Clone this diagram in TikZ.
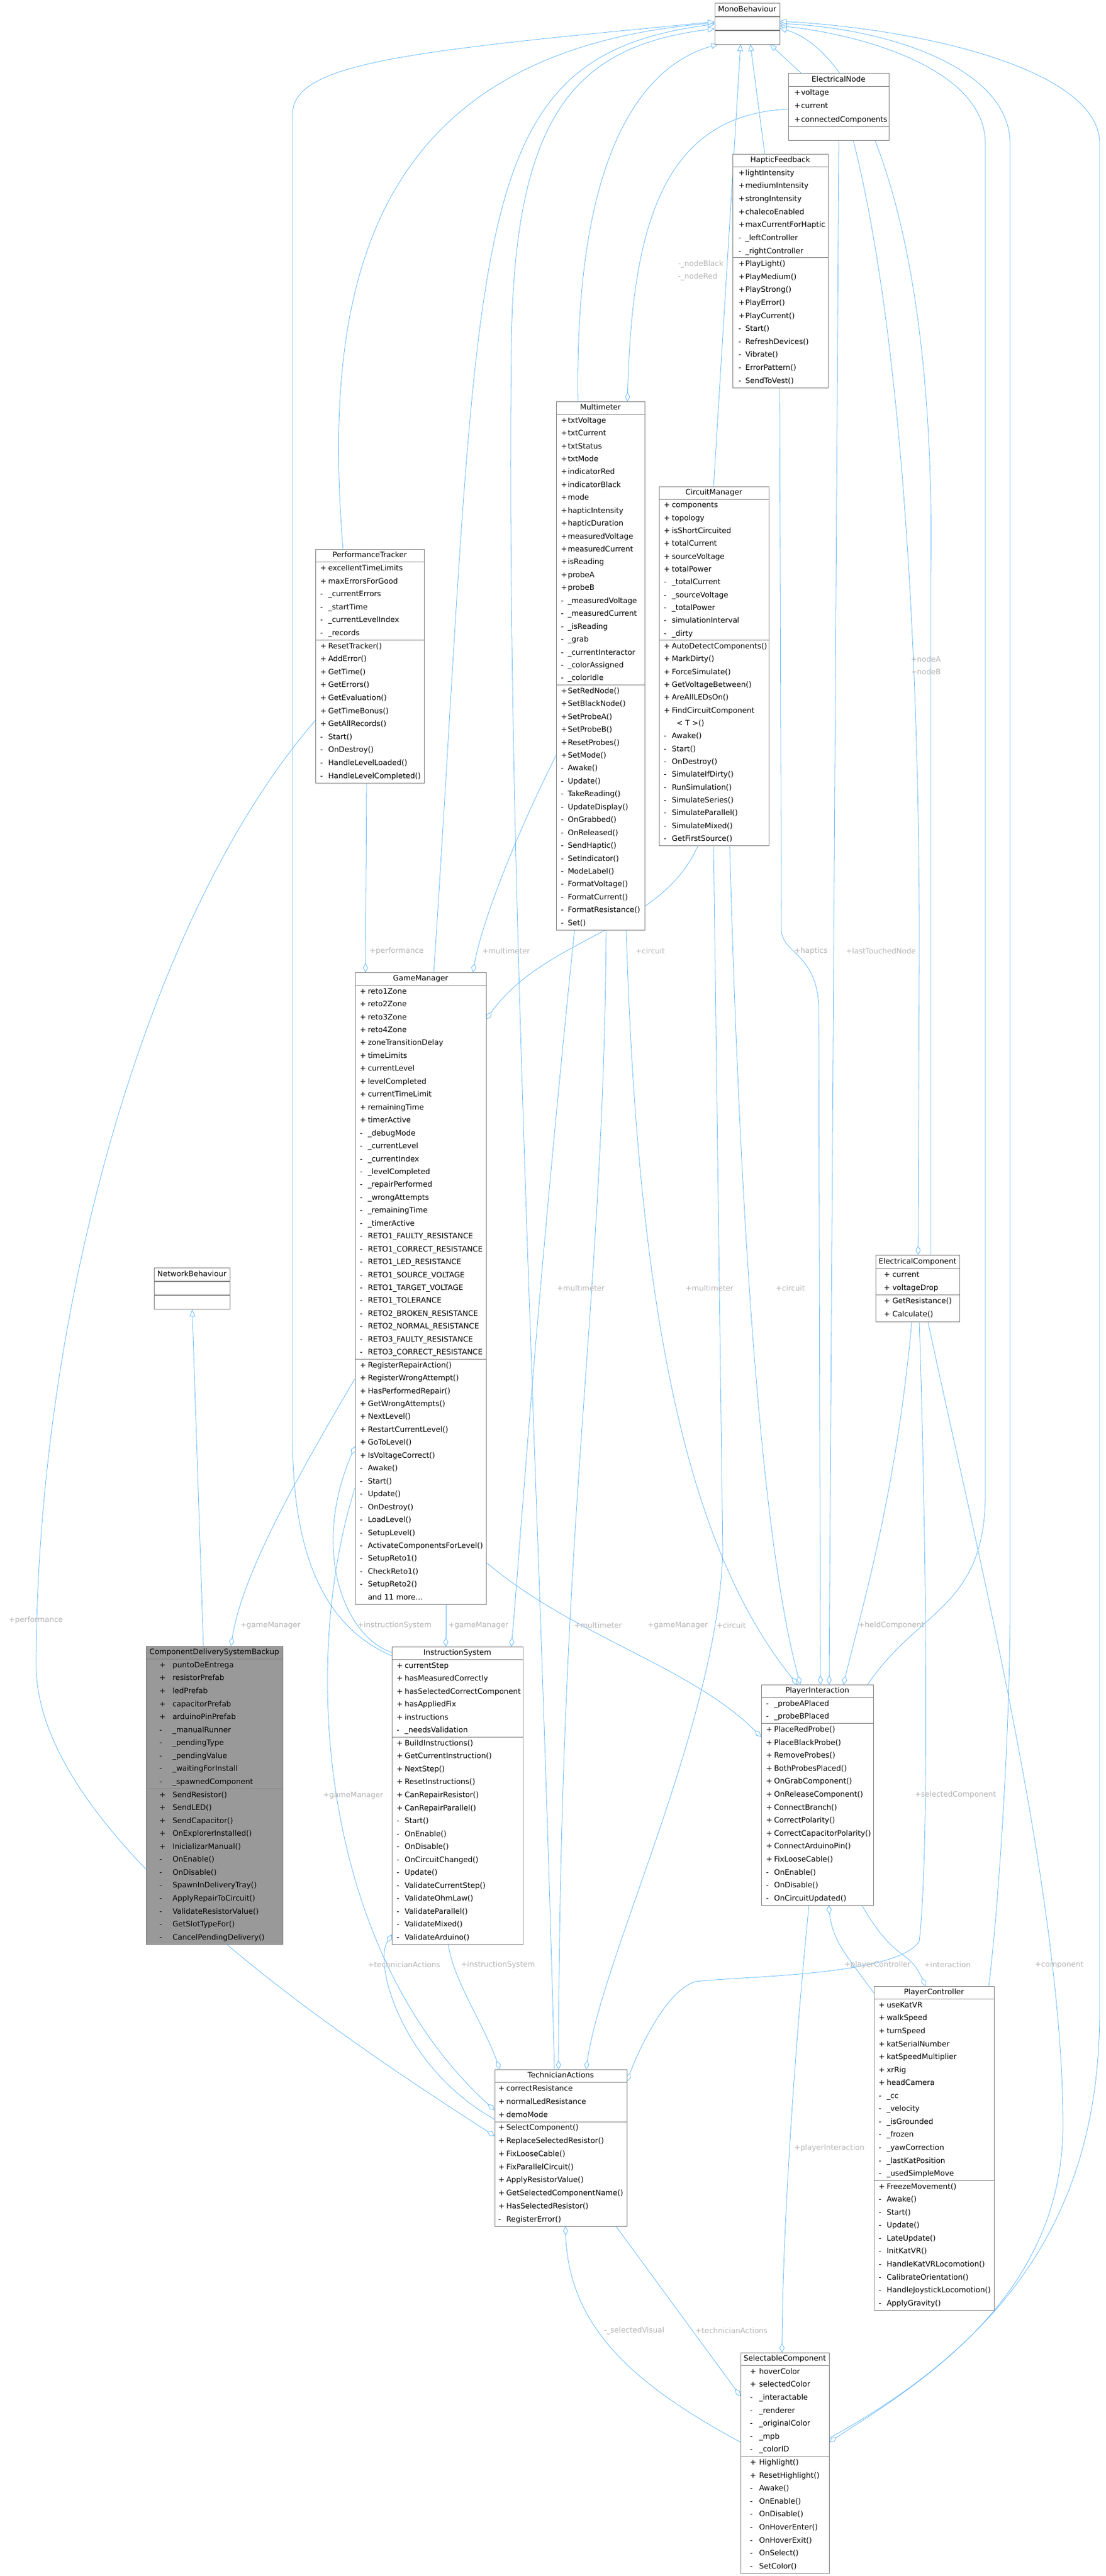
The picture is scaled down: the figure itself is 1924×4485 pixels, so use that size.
\documentclass[tikz,border=0pt]{standalone}
\usepackage{graphicx}
\usepackage{fontspec}
\setmainfont{DejaVu Sans}
\usetikzlibrary{arrows.meta,calc}
\pgfdeclarelayer{back}
\pgfdeclarelayer{bg}
\pgfsetlayers{back,bg,main}
\definecolor{edge}{HTML}{63B8FF}
\definecolor{boxc}{HTML}{808080}
\definecolor{lab}{HTML}{B4B4B4}
\definecolor{cdsb}{HTML}{999999}
\newcommand\fitw[2]{\sbox0{#2}\ifdim\wd0>#1pt\relax\resizebox{#1pt}{\ht0}{\usebox0}\else\usebox0\fi}
\newcommand\cls[9]{%
 \pgfmathsetmacro\rh{(#5-#3)/(1+max(#6,1)+max(#7,1))}%
 \xdef\curx{#2}\xdef\cury{#3}\xdef\currh{\rh}\xdef\curw{#4}%
 \node[box,fill=#9,minimum width={#4*0.75pt},minimum height={(#5-#3)*0.75pt},anchor=north west] (#1) at (#2,#3) {};
 \draw[boxc,line width=0.8pt] (#2,#3+\rh) -- ++(#4,0);
 \draw[boxc,line width=0.8pt] (#2,{#3+\rh*(1+max(#6,1))}) -- ++(#4,0);
 \node[mem,anchor=center] at ({#2+#4/2},{#3+\rh/2}) {#8};
}
\newcommand\members[4]{%
 \pgfmathsetmacro\avw{(\curw-#3-3)*0.75}%
 \foreach \s/\t [count=\i] in {#4}{
  \node[mem] at ({\curx+#2},{\cury+\currh*(#1+\i+0.5)}) {\s};
  \node[mem] at ({\curx+#3},{\cury+\currh*(#1+\i+0.5)}) {\fitw{\avw}{\t}};
 }}
\begin{document}
\begin{tikzpicture}[x=0.75pt,y=-0.75pt,
 box/.style={draw=boxc,line width=0.8pt,inner sep=0pt},
 mem/.style={anchor=west,inner sep=0pt,font=\fontsize{9.75}{11}\selectfont,text height=7.2pt,text depth=2pt},
 lbl/.style={anchor=west,inner sep=0pt,text=lab,font=\fontsize{9.75}{11}\selectfont},
 line/.style={draw=edge,line width=0.6pt},
 inh/.style={line,-{Triangle[open,length=9pt,width=7.5pt,fill=white]}},
 agg/.style={line,-{Diamond[open,length=12pt,width=6.5pt,fill=white]}}]
\begin{pgfonlayer}{back}
\path[use as bounding box,fill=white] (0,0) rectangle (1924,4485);
\end{pgfonlayer}

% ---------- classes ----------
\cls{MB}{1244}{5}{113}{77}{0}{0}{MonoBehaviour}{white}

\cls{EN}{1372}{127}{175}{244}{3}{0}{ElectricalNode}{white}
\members{0}{10}{22}{+/voltage,+/current,+/connectedComponents}

\cls{HF}{1275}{268}{166}{675}{7}{10}{HapticFeedback}{white}
\members{0}{10}{22}{+/lightIntensity,+/mediumIntensity,+/strongIntensity,+/chalecoEnabled,+/maxCurrentForHaptic,-/\_leftController,-/\_rightController}
\members{7}{10}{22}{+/PlayLight(),+/PlayMedium(),+/PlayStrong(),+/PlayError(),+/PlayCurrent(),-/Start(),-/RefreshDevices(),-/Vibrate(),-/ErrorPattern(),-/SendToVest()}

\cls{Mult}{968}{699}{154}{1619}{21}{19}{Multimeter}{white}
\members{0}{8}{20}{+/txtVoltage,+/txtCurrent,+/txtStatus,+/txtMode,+/indicatorRed,+/indicatorBlack,+/mode,+/hapticIntensity,+/hapticDuration,+/measuredVoltage,+/measuredCurrent,+/isReading,+/probeA,+/probeB,-/\_measuredVoltage,-/\_measuredCurrent,-/\_isReading,-/\_grab,-/\_currentInteractor,-/\_colorAssigned,-/\_colorIdle}
\members{21}{8}{20}{+/SetRedNode(),+/SetBlackNode(),+/SetProbeA(),+/SetProbeB(),+/ResetProbes(),+/SetMode(),-/Awake(),-/Update(),-/TakeReading(),-/UpdateDisplay(),-/OnGrabbed(),-/OnReleased(),-/SendHaptic(),-/SetIndicator(),-/ModeLabel(),-/FormatVoltage(),-/FormatCurrent(),-/FormatResistance(),-/Set()}

\cls{CM}{1147}{847}{191}{1472}{11}{16}{CircuitManager}{white}
\members{0}{8}{22}{+/components,+/topology,+/isShortCircuited,+/totalCurrent,+/sourceVoltage,+/totalPower,-/\_totalCurrent,-/\_sourceVoltage,-/\_totalPower,-/simulationInterval,-/\_dirty}
\members{11}{8}{22}{+/AutoDetectComponents(),+/MarkDirty(),+/ForceSimulate(),+/GetVoltageBetween(),+/AreAllLEDsOn(),+/FindCircuitComponent,{}/{\ \ < T >()},-/Awake(),-/Start(),-/OnDestroy(),-/SimulateIfDirty(),-/RunSimulation(),-/SimulateSeries(),-/SimulateParallel(),-/SimulateMixed(),-/GetFirstSource()}

\cls{PT}{549}{956}{189}{1363}{6}{11}{PerformanceTracker}{white}
\members{0}{8}{22}{+/excellentTimeLimits,+/maxErrorsForGood,-/\_currentErrors,-/\_startTime,-/\_currentLevelIndex,-/\_records}
\members{6}{8}{22}{+/ResetTracker(),+/AddError(),+/GetTime(),+/GetErrors(),+/GetEvaluation(),+/GetTimeBonus(),+/GetAllRecords(),-/Start(),-/OnDestroy(),-/HandleLevelLoaded(),-/HandleLevelCompleted()}

\cls{GM}{618}{1693}{228}{2793}{29}{19}{GameManager}{white}
\members{0}{8}{22}{+/reto1Zone,+/reto2Zone,+/reto3Zone,+/reto4Zone,+/zoneTransitionDelay,+/timeLimits,+/currentLevel,+/levelCompleted,+/currentTimeLimit,+/remainingTime,+/timerActive,-/\_debugMode,-/\_currentLevel,-/\_currentIndex,-/\_levelCompleted,-/\_repairPerformed,-/\_wrongAttempts,-/\_remainingTime,-/\_timerActive,-/RETO1\_FAULTY\_RESISTANCE,-/RETO1\_CORRECT\_RESISTANCE,-/RETO1\_LED\_RESISTANCE,-/RETO1\_SOURCE\_VOLTAGE,-/RETO1\_TARGET\_VOLTAGE,-/RETO1\_TOLERANCE,-/RETO2\_BROKEN\_RESISTANCE,-/RETO2\_NORMAL\_RESISTANCE,-/RETO3\_FAULTY\_RESISTANCE,-/RETO3\_CORRECT\_RESISTANCE}
\members{29}{8}{22}{+/RegisterRepairAction(),+/RegisterWrongAttempt(),+/HasPerformedRepair(),+/GetWrongAttempts(),+/NextLevel(),+/RestartCurrentLevel(),+/GoToLevel(),+/IsVoltageCorrect(),-/Awake(),-/Start(),-/Update(),-/OnDestroy(),-/LoadLevel(),-/SetupLevel(),-/ActivateComponentsForLevel(),-/SetupReto1(),-/CheckReto1(),-/SetupReto2(),{}/{and 11 more\ldots}}

\cls{NB}{268}{2207}{132}{2279}{0}{0}{NetworkBehaviour}{white}

\cls{EC}{1524}{2185}{146}{2301}{2}{2}{ElectricalComponent}{white}
\members{0}{14}{29}{+/current,+/voltageDrop}
\members{2}{14}{29}{+/GetResistance(),+/Calculate()}

\cls{CDSB}{254}{2866}{238}{3385}{10}{12}{ComponentDeliverySystemBackup}{cdsb}
\members{0}{23}{46}{+/puntoDeEntrega,+/resistorPrefab,+/ledPrefab,+/capacitorPrefab,+/arduinoPinPrefab,-/\_manualRunner,-/\_pendingType,-/\_pendingValue,-/\_waitingForInstall,-/\_spawnedComponent}
\members{10}{23}{46}{+/SendResistor(),+/SendLED(),+/SendCapacitor(),+/OnExplorerInstalled(),+/InicializarManual(),-/OnEnable(),-/OnDisable(),-/SpawnInDeliveryTray(),-/ApplyRepairToCircuit(),-/ValidateResistorValue(),-/GetSlotTypeFor(),-/CancelPendingDelivery()}

\cls{IS}{682}{2867}{228}{3385}{6}{16}{InstructionSystem}{white}
\members{0}{8}{22}{+/currentStep,+/hasMeasuredCorrectly,+/hasSelectedCorrectComponent,+/hasAppliedFix,+/instructions,-/\_needsValidation}
\members{6}{8}{22}{+/BuildInstructions(),+/GetCurrentInstruction(),+/NextStep(),+/ResetInstructions(),+/CanRepairResistor(),+/CanRepairParallel(),-/Start(),-/OnEnable(),-/OnDisable(),-/OnCircuitChanged(),-/Update(),-/ValidateCurrentStep(),-/ValidateOhmLaw(),-/ValidateParallel(),-/ValidateMixed(),-/ValidateArduino()}

\cls{PI}{1325}{2933}{195}{3317}{2}{14}{PlayerInteraction}{white}
\members{0}{8}{22}{-/\_probeAPlaced,-/\_probeBPlaced}
\members{2}{8}{22}{+/PlaceRedProbe(),+/PlaceBlackProbe(),+/RemoveProbes(),+/BothProbesPlaced(),+/OnGrabComponent(),+/OnReleaseComponent(),+/ConnectBranch(),+/CorrectPolarity(),+/CorrectCapacitorPolarity(),+/ConnectArduinoPin(),+/FixLooseCable(),-/OnEnable(),-/OnDisable(),-/OnCircuitUpdated()}

\cls{PC}{1521}{3458}{209}{4022}{14}{10}{PlayerController}{white}
\members{0}{8}{22}{+/useKatVR,+/walkSpeed,+/turnSpeed,+/katSerialNumber,+/katSpeedMultiplier,+/xrRig,+/headCamera,-/\_cc,-/\_velocity,-/\_isGrounded,-/\_frozen,-/\_yawCorrection,-/\_lastKatPosition,-/\_usedSimpleMove}
\members{14}{8}{22}{+/FreezeMovement(),-/Awake(),-/Start(),-/Update(),-/LateUpdate(),-/InitKatVR(),-/HandleKatVRLocomotion(),-/CalibrateOrientation(),-/HandleJoystickLocomotion(),-/ApplyGravity()}

\cls{TA}{861}{3603}{230}{3876}{3}{8}{TechnicianActions}{white}
\members{0}{6}{20}{+/correctResistance,+/normalLedResistance,+/demoMode}
\members{3}{6}{20}{+/SelectComponent(),+/ReplaceSelectedResistor(),+/FixLooseCable(),+/FixParallelCircuit(),+/ApplyResistorValue(),+/GetSelectedComponentName(),+/HasSelectedResistor(),-/RegisterError()}

\cls{SC}{1289}{4096}{154}{4480}{7}{9}{SelectableComponent}{white}
\members{0}{16}{32}{+/hoverColor,+/selectedColor,-/\_interactable,-/\_renderer,-/\_originalColor,-/\_mpb,-/\_colorID}
\members{7}{16}{32}{+/Highlight(),+/ResetHighlight(),-/Awake(),-/OnEnable(),-/OnDisable(),-/OnHoverEnter(),-/OnHoverExit(),-/OnSelect(),-/SetColor()}

% ---------- edges ----------
\begin{pgfonlayer}{bg}
% inheritance
\draw[inh] ($(PT.north west)+(48,0)$) .. controls (560,500) and (640,90) .. ($(MB.north west)+(0,35)$);
\draw[inh] ($(GM.north west)+(137,0)$) .. controls (840,400) and (800,100) .. ($(MB.north west)+(0,37)$);
\draw[inh] ($(IS.north west)+(0,16)$) .. controls (560,2830) and (509,2700) .. (509,2500) -- (509,200) .. controls (509,110) and (700,90) .. ($(MB.north west)+(0,33)$);
\draw[inh] ($(Mult.north west)+(38,0)$) .. controls (1000,300) and (1100,120) .. ($(MB.north west)+(6,72)$);
\draw[inh] ($(CM.north west)+(95,0)$) -- ($(MB.north west)+(45,72)$);
\draw[inh] ($(HF.north west)+(56,0)$) -- ($(MB.north west)+(62,72)$);
\draw[inh] ($(EN.north west)+(22,0)$) -- ($(MB.north west)+(96,72)$);
\draw[inh] ($(TA.north west)+(104,0)$) .. controls (940,2600) and (880,1500) .. (890,600) .. controls (895,200) and (1000,80) .. ($(MB.north west)+(0,45)$);
\draw[inh] ($(PI.north west)+(185,0)$) .. controls (1600,2800) and (1715,2800) .. (1715,2600) -- (1715,250) .. controls (1715,120) and (1500,60) .. ($(MB.north west)+(113,40)$);
\draw[inh] ($(PC.north west)+(200,0)$) .. controls (1740,3300) and (1758,3000) .. (1758,2800) -- (1758,250) .. controls (1758,120) and (1550,50) .. ($(MB.north west)+(113,36)$);
\draw[inh] ($(SC.north west)+(154,149)$) .. controls (1800,4050) and (1914,3800) .. (1914,3500) -- (1914,250) .. controls (1914,120) and (1600,50) .. ($(MB.north west)+(113,32)$);
\draw[inh] ($(EC.north west)+(96,0)$) -- (1620,1000) .. controls (1630,400) and (1500,90) .. ($(MB.north west)+(113,44)$);
\draw[inh] ($(CDSB.north west)+(100,0)$) -- (NB.south);
% aggregations
\draw[agg] ($(EN.north west)+(0,63)$) .. controls (1150,200) and (1100,400) .. ($(Mult.north west)+(124,0)$);
\draw[agg] ($(PT.north west)+(89,407)$) -- ($(GM.north west)+(18,0)$);
\draw[agg] ($(Mult.north west)+(0,616)$) .. controls (900,1450) and (840,1600) .. ($(GM.north west)+(205,0)$);
\draw[agg] ($(CM.north west)+(68,625)$) .. controls (1150,1620) and (950,1630) .. ($(GM.north west)+(228,82)$);
\draw[agg] ($(HF.north west)+(82,407)$) -- (1360,1620) .. controls (1362,1660) and (1420,1660) .. (1425,1750) -- ($(PI.north west)+(103,0)$);
\draw[agg] ($(EN.north west)+(88,117)$) -- ($(PI.north west)+(118,0)$);
\draw[agg] ($(EN.north west)+(113,117)$) .. controls (1600,700) and (1600,1500) .. (1600,1650) -- ($(EC.north west)+(74,0)$);
\draw[agg] ($(Mult.north west)+(122,920)$) .. controls (1110,2300) and (1200,2700) .. ($(PI.north west)+(63,0)$);
\draw[agg] ($(CM.north west)+(123,625)$) .. controls (1290,2200) and (1330,2700) .. ($(PI.north west)+(68,0)$);
\draw[agg] ($(Mult.north west)+(87,920)$) .. controls (1050,2300) and (975,2600) .. ($(TA.north west)+(111,0)$);
\draw[agg] ($(CM.north west)+(95,625)$) -- (1258,2700) .. controls (1250,3000) and (1050,3400) .. ($(TA.north west)+(159,0)$);
\draw[agg] ($(GM.north west)+(0,707)$) .. controls (500,2600) and (420,2750) .. ($(CDSB.north west)+(148,0)$);
\draw[agg] ($(GM.north west)+(158,1100)$) -- ($(IS.north west)+(94,0)$);
\draw[agg] ($(IS.north west)+(0,10)$) .. controls (600,2850) and (540,2700) .. ($(GM.north west)+(0,825)$);
\draw[agg] ($(GM.north west)+(228,1027)$) .. controls (1000,2850) and (1200,2900) .. ($(PI.north west)+(0,91)$);
\draw[agg] ($(Mult.north west)+(32,920)$) .. controls (930,2300) and (905,2700) .. ($(IS.north west)+(208,0)$);
\draw[agg] ($(GM.north west)+(0,897)$) .. controls (520,2900) and (560,3400) .. ($(TA.north west)+(0,71)$);
\draw[agg] ($(PT.north west)+(0,298)$) .. controls (250,1600) and (63,2300) .. (63,2900) .. controls (63,3200) and (600,3550) .. ($(TA.north west)+(0,116)$);
\draw[agg] ($(EC.north west)+(63,116)$) .. controls (1560,2600) and (1500,2800) .. ($(PI.north west)+(143,0)$);
\draw[agg] ($(EC.north west)+(76,116)$) .. controls (1610,2600) and (1620,3200) .. (1600,3380) .. controls (1560,3440) and (1300,3440) .. (1210,3450) .. controls (1150,3470) and (1100,3600) .. ($(TA.north west)+(230,21)$);
\draw[agg] ($(EC.north west)+(91,116)$) .. controls (1700,2700) and (1850,3300) .. (1850,3700) .. controls (1850,4000) and (1600,4150) .. ($(SC.north west)+(154,156)$);
\draw[agg] ($(PC.north west)+(0,12)$) .. controls (1470,3400) and (1450,3380) .. ($(PI.north west)+(117,384)$);
\draw[agg] ($(PI.north west)+(175,384)$) .. controls (1560,3420) and (1580,3390) .. ($(PC.north west)+(90,0)$);
\draw[agg] ($(PI.north west)+(83,384)$) .. controls (1380,3600) and (1362,3900) .. ($(SC.north west)+(72,0)$);
\draw[agg] ($(TA.north west)+(211,273)$) -- ($(SC.north west)+(0,76)$);
\draw[agg] ($(SC.north west)+(0,156)$) .. controls (1100,4150) and (990,4050) .. ($(TA.north west)+(123,273)$);
\draw[agg] ($(IS.north west)+(98,518)$) .. controls (790,3450) and (840,3520) .. ($(TA.north west)+(9,0)$);
\draw[agg] ($(TA.north west)+(0,87)$) .. controls (700,3600) and (650,3420) .. ($(IS.north west)+(0,501)$);

% labels
\node[lbl] at (1180,460) {-\_nodeBlack};
\node[lbl] at (1180,482) {-\_nodeRed};
\node[lbl] at (643,1656) {+performance};
\node[lbl] at (839,1656) {+multimeter};
\node[lbl] at (1106,1656) {+circuit};
\node[lbl] at (1382,1656) {+haptics};
\node[lbl] at (1472,1656) {+lastTouchedNode};
\node[lbl] at (1585,1148) {+nodeA};
\node[lbl] at (1585,1170) {+nodeB};
\node[lbl] at (969,2243) {+multimeter};
\node[lbl] at (1193,2243) {+multimeter};
\node[lbl] at (1350,2243) {+circuit};
\node[lbl] at (418,2830) {+gameManager};
\node[lbl] at (622,2830) {+instructionSystem};
\node[lbl] at (780,2830) {+gameManager};
\node[lbl] at (999,2830) {+multimeter};
\node[lbl] at (1127,2830) {+gameManager};
\node[lbl] at (1247,2830) {+circuit};
\node[lbl] at (1494,2830) {+heldComponent};
\node[lbl] at (15,2821) {+performance};
\node[lbl] at (562,3126) {+gameManager};
\node[lbl] at (1592,3125) {+selectedComponent};
\node[lbl] at (1469,3421) {+playerController};
\node[lbl] at (1608,3421) {+interaction};
\node[lbl] at (1801,3421) {+component};
\node[lbl] at (640,3421) {+technicianActions};
\node[lbl] at (802,3421) {+instructionSystem};
\node[lbl] at (1382,3740) {+playerInteraction};
\node[lbl] at (1051,4058) {-\_selectedVisual};
\node[lbl] at (1210,4058) {+technicianActions};
\end{pgfonlayer}
\end{tikzpicture}
\end{document}
